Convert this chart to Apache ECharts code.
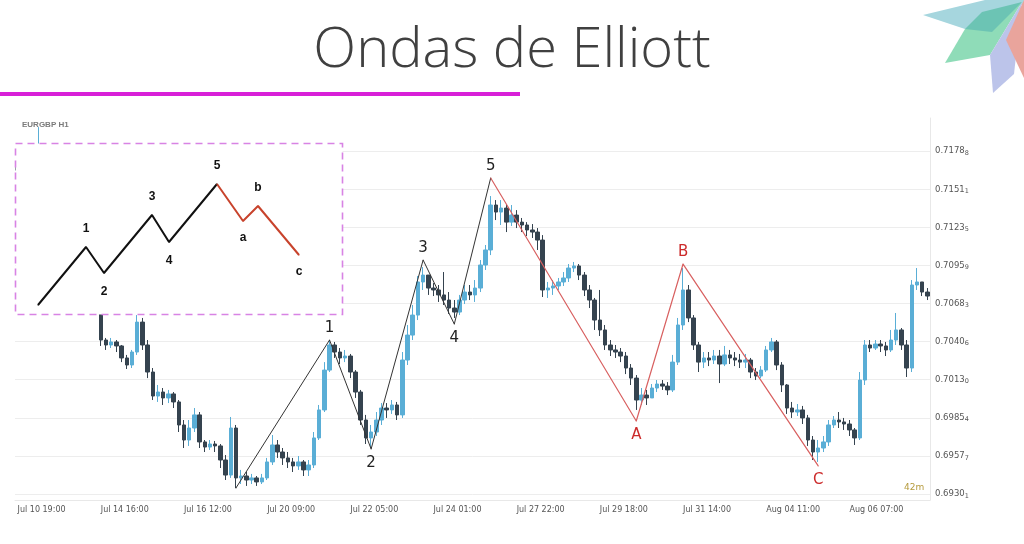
<!DOCTYPE html>
<html><head><meta charset="utf-8">
<script src="https://cdn.jsdelivr.net/npm/echarts@6/dist/echarts.min.js"></script>
<style>html,body{margin:0;padding:0;background:#fff}#c{width:1024px;height:544px}</style>
</head><body><div id="c"></div>
<script>
// ---------- data ----------
const xTickLabels = ['Jul 10 19:00','Jul 14 16:00','Jul 16 12:00','Jul 20 09:00','Jul 22 05:00','Jul 24 01:00','Jul 27 22:00','Jul 29 18:00','Jul 31 14:00','Aug 04 11:00','Aug 06 07:00'];
const barsPerTick = 16;
const yTickValues = [0.69301,0.69577,0.69854,0.70130,0.70406,0.70683,0.70959,0.71235,0.71511,0.71788];
const yTickLabels = ['0.69301','0.69577','0.69854','0.70130','0.70406','0.70683','0.70959','0.71235','0.71511','0.71788'];
const firstOpen = 0.71700;
const closes = [
0.71650,0.71723,0.71796,0.71781,0.71810,0.71759,0.71650,0.71542,0.71433,0.71324,
0.71216,0.71071,0.70962,0.70817,0.70708,0.70621,0.70418,0.70382,0.70404,0.70375,
0.70288,0.70237,0.70331,0.70548,0.70382,0.70186,0.70012,0.70041,0.69998,0.70027,
0.69969,0.69802,0.69693,0.69780,0.69875,0.69679,0.69642,0.69664,0.69650,0.69548,
0.69439,0.69780,0.69418,0.69432,0.69403,0.69418,0.69389,0.69418,0.69534,0.69657,
0.69606,0.69563,0.69534,0.69505,0.69534,0.69476,0.69512,0.69708,0.69911,0.70200,
0.70382,0.70331,0.70288,0.70302,0.70186,0.70041,0.69838,0.69708,0.69751,0.69838,
0.69925,0.69911,0.69947,0.69875,0.70273,0.70454,0.70599,0.70839,0.70889,0.70795,
0.70781,0.70745,0.70708,0.70650,0.70621,0.70708,0.70766,0.70745,0.70795,0.70962,
0.71071,0.71397,0.71346,0.71375,0.71273,0.71324,0.71273,0.71252,0.71216,0.71201,
0.71143,0.70781,0.70795,0.70810,0.70839,0.70868,0.70940,0.70955,0.70889,0.70781,
0.70708,0.70563,0.70491,0.70382,0.70346,0.70331,0.70302,0.70215,0.70142,0.69983,
0.70019,0.69998,0.70070,0.70099,0.70084,0.70056,0.70258,0.70527,0.70781,0.70578,
0.70382,0.70258,0.70288,0.70273,0.70302,0.70244,0.70310,0.70288,0.70273,0.70258,
0.70273,0.70186,0.70157,0.70200,0.70346,0.70404,0.70237,0.70092,0.69925,0.69896,
0.69911,0.69853,0.69693,0.69606,0.69635,0.69679,0.69802,0.69838,0.69824,0.69809,
0.69766,0.69708,0.70128,0.70382,0.70360,0.70389,0.70375,0.70346,0.70418,0.70491,
0.70382,0.70215,0.70817,0.70839,0.70766,0.70737];
const highs = [
0.71723,0.71781,0.71825,0.71832,0.71962,0.71825,0.71796,0.71665,0.71556,0.71448,
0.71346,0.71230,0.71107,0.70984,0.70853,0.70745,0.70672,0.70433,0.70433,0.70418,
0.70382,0.70310,0.70346,0.70599,0.70578,0.70418,0.70215,0.70092,0.70070,0.70056,
0.70041,0.69983,0.69838,0.69838,0.69925,0.69896,0.69693,0.69693,0.69686,0.69664,
0.69584,0.69860,0.69802,0.69476,0.69461,0.69447,0.69432,0.69447,0.69563,0.69729,
0.69693,0.69635,0.69606,0.69563,0.69577,0.69548,0.69548,0.69751,0.69947,0.70258,
0.70418,0.70404,0.70360,0.70346,0.70317,0.70200,0.70056,0.69875,0.69802,0.69896,
0.69961,0.69961,0.69983,0.69969,0.70331,0.70527,0.70672,0.70882,0.70947,0.70889,
0.70831,0.70817,0.70911,0.70766,0.70708,0.70745,0.70817,0.70817,0.70853,0.70998,
0.71107,0.71462,0.71433,0.71433,0.71397,0.71397,0.71360,0.71303,0.71273,0.71259,
0.71230,0.71179,0.70839,0.70853,0.70868,0.70911,0.70969,0.70984,0.70969,0.70911,
0.70817,0.70723,0.70781,0.70527,0.70418,0.70382,0.70360,0.70331,0.70244,0.70164,
0.70070,0.70056,0.70099,0.70128,0.70128,0.70113,0.70310,0.70578,0.70940,0.70817,
0.70599,0.70404,0.70331,0.70331,0.70346,0.70346,0.70375,0.70346,0.70331,0.70317,
0.70317,0.70288,0.70215,0.70229,0.70375,0.70433,0.70418,0.70258,0.70099,0.69969,
0.69954,0.69940,0.69875,0.69722,0.69693,0.69722,0.69838,0.69867,0.69896,0.69853,
0.69838,0.69780,0.70186,0.70418,0.70418,0.70418,0.70418,0.70404,0.70491,0.70614,
0.70505,0.70418,0.70853,0.70940,0.70839,0.70795];
const lows = [
0.71578,0.71614,0.71687,0.71738,0.71775,0.71723,0.71592,0.71491,0.71375,0.71273,
0.71143,0.71013,0.70911,0.70766,0.70636,0.70614,0.70375,0.70346,0.70360,0.70331,
0.70258,0.70208,0.70215,0.70310,0.70346,0.70142,0.69983,0.69969,0.69947,0.69961,
0.69925,0.69751,0.69635,0.69650,0.69751,0.69635,0.69606,0.69621,0.69606,0.69490,
0.69403,0.69418,0.69345,0.69374,0.69360,0.69374,0.69360,0.69374,0.69403,0.69512,
0.69563,0.69512,0.69490,0.69461,0.69476,0.69432,0.69432,0.69490,0.69693,0.69896,
0.70186,0.70288,0.70244,0.70258,0.70142,0.69998,0.69802,0.69664,0.69642,0.69722,
0.69802,0.69853,0.69882,0.69838,0.69853,0.70237,0.70418,0.70563,0.70781,0.70745,
0.70737,0.70694,0.70672,0.70607,0.70578,0.70599,0.70679,0.70708,0.70694,0.70766,
0.70926,0.71034,0.71288,0.71252,0.71201,0.71245,0.71230,0.71201,0.71172,0.71158,
0.71071,0.70730,0.70723,0.70745,0.70781,0.70810,0.70839,0.70911,0.70853,0.70737,
0.70650,0.70491,0.70447,0.70346,0.70302,0.70288,0.70258,0.70171,0.70092,0.69911,
0.69947,0.69947,0.69998,0.70041,0.70056,0.70019,0.70041,0.70237,0.70491,0.70548,
0.70346,0.70186,0.70215,0.70229,0.70244,0.70106,0.70229,0.70244,0.70229,0.70215,
0.70215,0.70142,0.70128,0.70142,0.70186,0.70331,0.70200,0.70041,0.69882,0.69853,
0.69867,0.69809,0.69650,0.69548,0.69534,0.69606,0.69650,0.69780,0.69780,0.69766,
0.69722,0.69657,0.69693,0.70092,0.70331,0.70346,0.70331,0.70302,0.70331,0.70382,
0.70346,0.70150,0.70186,0.70781,0.70737,0.70708];

// Elliott waves on the price chart (bar index, price)
const impulseIdx = [42, 60, 68, 78, 84, 91];
const impulseVals = [0.69345, 0.70418, 0.69628, 0.70998, 0.70534, 0.71593];
const impulseNames = ['', '1', '2', '3', '4', '5'];
const corrIdx = [91, 119, 128, 154];
const corrVals = [0.71593, 0.69831, 0.70969, 0.69505];
const corrNames = ['', 'A', 'B', 'C'];

// Schematic inset (abstract units)
const insetImpX = [23, 71, 89, 137, 154, 202];
const insetImpY = [10, 68, 42, 100, 73, 131];
const insetImpNames = ['', '1', '2', '3', '4', '5'];
const insetCorX = [202, 228, 243, 284];
const insetCorY = [131, 94, 109, 60];
const insetCorNames = ['', 'a', 'b', 'c'];

// ---------- build ----------
const categories = closes.map((_, i) => String(i));
const candleData = closes.map((c, i) => {
  const o = i === 0 ? firstOpen : closes[i - 1];
  return [o, c, Math.min(lows[i], o, c), Math.max(highs[i], o, c)];
});

function wavePoints(xs, ys, names, color, font, topDist, botDist) {
  return xs.map((x, i) => {
    const up = i > 0 && ys[i] > ys[i - 1];
    return {
      value: [x, ys[i]],
      label: {
        show: names[i] !== '',
        formatter: names[i],
        position: up ? 'top' : 'bottom',
        distance: up ? topDist : botDist,
        color: color, fontSize: font.size, fontFamily: font.family, fontWeight: font.weight
      }
    };
  });
}

const mainFont = {size: 15, family: 'DejaVu Sans', weight: 'normal'};
const insetFont = {size: 12, family: 'Liberation Sans', weight: 'bold'};

const chart = echarts.init(document.getElementById('c'));
chart.setOption({
  animation: false,
  backgroundColor: '#ffffff',
  title: [
    {text: 'Ondas de Elliott', left: 'center', top: 23, padding: 0,
     textStyle: {fontSize: 56, fontWeight: 300, color: '#404040', fontFamily: 'Open Sans'}},
    {text: 'EURGBP H1', left: 22, top: 121, padding: 0,
     textStyle: {fontSize: 8, fontWeight: 'bold', color: '#7a7a7a', fontFamily: 'Liberation Sans'}},
    {text: '42m', left: 904, top: 483, padding: 0,
     textStyle: {fontSize: 9, fontWeight: 'normal', color: '#b59a3c', fontFamily: 'DejaVu Sans'}}
  ],
  grid: [
    {left: 15, right: 94, top: 118, bottom: 44, containLabel: false},
    {left: 15, top: 143, width: 328, height: 172, containLabel: false}
  ],
  xAxis: [
    {type: 'category', gridIndex: 0, data: categories, boundaryGap: true,
     axisLine: {show: true, lineStyle: {color: '#e8e8e8'}},
     axisTick: {show: false},
     splitLine: {show: false},
     axisLabel: {interval: barsPerTick - 1, align: 'left', margin: 6, color: '#555', fontSize: 8,
       fontFamily: 'DejaVu Sans',
       formatter: (v, idx) => xTickLabels[Math.round(idx / barsPerTick)] || ''}},
    {type: 'value', gridIndex: 1, min: 0, max: 328, show: false}
  ],
  yAxis: [
    {type: 'value', gridIndex: 0, position: 'right', min: 0.69258, max: 0.72028, scale: true,
     axisLine: {show: true, lineStyle: {color: '#e8e8e8'}},
     axisTick: {show: false, customValues: yTickValues},
     splitLine: {show: true, lineStyle: {color: '#ededed', width: 1}},
     axisLabel: {customValues: yTickValues, margin: 5, color: '#555',
       formatter: (v) => {
         let k = 0, best = 1;
         yTickValues.forEach((t, j) => { const d = Math.abs(t - v); if (d < best) { best = d; k = j; } });
         const s = yTickLabels[k];
         return '{m|' + s.slice(0, -1) + '}{s|' + s.slice(-1) + '}';
       },
       rich: {
         m: {fontSize: 8.5, fontFamily: 'DejaVu Sans', color: '#555'},
         s: {fontSize: 6.5, fontFamily: 'DejaVu Sans', color: '#555', padding: [4, 0, 0, 0]}
       }}},
    {type: 'value', gridIndex: 1, min: 0, max: 172, show: false}
  ],
  graphic: [
    {type: 'rect', shape: {x: 0, y: 92, width: 520, height: 4}, style: {fill: '#d81fd8'}, z: 1},
    {type: 'rect', shape: {x: 15.5, y: 143.5, width: 327, height: 171},
     style: {fill: '#ffffff', stroke: '#d883e4', lineWidth: 1.6, lineDash: [7, 5]}, z: 10},
    {type: 'polygon', shape: {points: [[923,15],[985,0],[1024,0],[1024,4],[965,29]]}, style: {fill: '#a6d6de'}, z: 1},
    {type: 'polygon', shape: {points: [[945,63],[965,29],[1022,2],[990,55]]}, style: {fill: '#8fdcb8'}, z: 1},
    {type: 'polygon', shape: {points: [[965,29],[982,12],[1022,2],[992,32]]}, style: {fill: '#6cc4b4'}, z: 1},
    {type: 'polygon', shape: {points: [[990,55],[1022,2],[1014,74],[993,93]]}, style: {fill: '#bcc4ea'}, z: 1},
    {type: 'polygon', shape: {points: [[1006,40],[1024,0],[1024,78]]}, style: {fill: '#e9a49c'}, z: 1}
  ],
  series: [
    {type: 'candlestick', xAxisIndex: 0, yAxisIndex: 0, data: candleData, barWidth: 4, z: 2,
     itemStyle: {color: '#5aaed6', color0: '#35434f', borderColor: '#5aaed6', borderColor0: '#35434f', borderWidth: 1}},
    {type: 'line', xAxisIndex: 0, yAxisIndex: 0, z: 4,
     data: wavePoints(impulseIdx, impulseVals, impulseNames, '#222', mainFont, 4, 6),
     symbol: 'circle', symbolSize: 1, itemStyle: {color: '#333'},
     lineStyle: {color: '#333', width: 1}},
    {type: 'line', xAxisIndex: 0, yAxisIndex: 0, z: 4,
     data: wavePoints(corrIdx, corrVals, corrNames, '#cc2b2b', mainFont, 4, 6),
     symbol: 'circle', symbolSize: 1, itemStyle: {color: '#d86060'},
     lineStyle: {color: '#d86060', width: 1.2}},
    {type: 'line', xAxisIndex: 1, yAxisIndex: 1, z: 20,
     data: wavePoints(insetImpX, insetImpY, insetImpNames, '#111', insetFont, 12, 12),
     symbol: 'circle', symbolSize: 1, itemStyle: {color: '#111'},
     lineStyle: {color: '#111', width: 2}},
    {type: 'line', xAxisIndex: 1, yAxisIndex: 1, z: 20,
     data: wavePoints(insetCorX, insetCorY, insetCorNames, '#111', insetFont, 12, 10),
     symbol: 'circle', symbolSize: 1, itemStyle: {color: '#c8432c'},
     lineStyle: {color: '#c8432c', width: 2}}
  ]
});
</script></body></html>
